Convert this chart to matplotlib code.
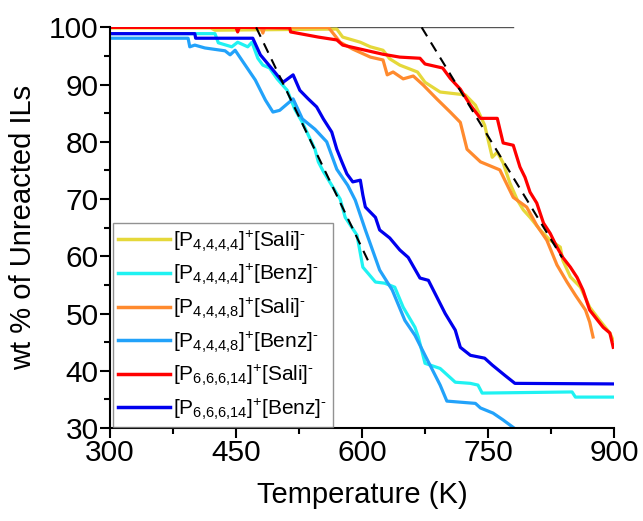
import numpy as np
import matplotlib
matplotlib.use('Agg')
import matplotlib.pyplot as plt
from matplotlib.ticker import MultipleLocator

plt.rcParams['font.family'] = ['Liberation Sans', 'DejaVu Sans']
plt.rcParams['mathtext.fontset'] = 'custom'
plt.rcParams['mathtext.rm'] = 'Liberation Sans'
plt.rcParams['mathtext.it'] = 'Liberation Sans:italic'

##################################
# Data
##################################
labels = [r'[P$_{\mathregular{4{,}4{,}4{,}4}}$]$^{\mathregular{+}}$[Sali]$^{\text{-}}$',
          r'[P$_{\mathregular{4{,}4{,}4{,}4}}$]$^{\mathregular{+}}$[Benz]$^{\text{-}}$',
          r'[P$_{\mathregular{4{,}4{,}4{,}8}}$]$^{\mathregular{+}}$[Sali]$^{\text{-}}$',
          r'[P$_{\mathregular{4{,}4{,}4{,}8}}$]$^{\mathregular{+}}$[Benz]$^{\text{-}}$',
          r'[P$_{\mathregular{6{,}6{,}6{,}14}}$]$^{\mathregular{+}}$[Sali]$^{\text{-}}$',
          r'[P$_{\mathregular{6{,}6{,}6{,}14}}$]$^{\mathregular{+}}$[Benz]$^{\text{-}}$']
colors = ['#E5D83A', '#1FF2F2', '#FF8A2E', '#22A2FA', '#FF0000', '#0000EE']

# P4444 Sali (yellow)
t_p4444_sali = [300, 420, 425, 570, 577, 598, 610, 625, 633, 645, 666, 675, 693, 723, 735,
                746, 755, 761, 768, 776, 785, 792, 800, 812, 824, 836, 839, 848, 860, 871,
                883, 895, 899]
w_p4444_sali = [99.9, 99.9, 99.5, 99.7, 98.3, 97.4, 96.6, 96.0, 94.5, 93.4, 92.2, 90.4, 88.7, 88.2, 86.4,
                82.9, 77.3, 78.2, 76.3, 72.8, 69.8, 68.1, 66.8, 64.6, 62.8, 61.6, 59.3, 56.4, 54.6, 51.1,
                48.8, 46.6, 45.3]

# P4444 Benz (cyan)
t_p4444_benz = [300, 425, 429, 445, 452, 464, 469, 476, 482, 490, 499, 511, 520, 529, 536,
                544, 548, 554, 564, 574, 580, 594, 601, 616, 627, 639, 649, 663, 667, 675,
                693, 711, 729, 738, 743, 850, 854, 900]
w_p4444_benz = [98.9, 98.9, 97.3, 96.6, 97.4, 96.6, 97.4, 94.6, 93.4, 92.9, 91.0, 89.0, 85.7, 83.4, 81.2,
                78.7, 76.5, 74.8, 72.4, 70.0, 66.8, 63.7, 58.1, 55.5, 55.3, 54.6, 51.1, 47.6, 45.9, 41.3,
                40.4, 38.0, 37.8, 37.5, 36.1, 36.3, 35.4, 35.4]

# P4448 Sali (orange)
t_p4448_sali = [300, 480, 482, 484, 560, 574, 589, 610, 625, 630, 637, 649, 661, 673, 689,
                705, 717, 725, 741, 764, 773, 780, 796, 808, 820, 832, 844, 854, 866, 871,
                875]
w_p4448_sali = [100.0, 100.0, 99.0, 100.0, 100.0, 97.4, 96.2, 94.8, 94.3, 91.7, 92.2, 91.0, 91.5, 89.9, 87.5,
                85.2, 83.4, 78.7, 76.5, 75.1, 72.4, 70.3, 68.6, 65.4, 62.8, 58.5, 55.5, 53.2, 50.6, 48.5,
                45.9]

# P4448 Benz (light blue)
t_p4448_benz = [300, 393, 395, 401, 413, 437, 443, 449, 461, 473, 485, 494, 502, 518, 529,
                544, 558, 570, 583, 592, 604, 621, 636, 651, 663, 675, 693, 701, 735, 741,
                756, 768, 780, 790]
w_p4448_benz = [98.1, 98.1, 96.6, 96.9, 96.4, 95.9, 95.2, 96.0, 93.4, 90.8, 87.3, 85.2, 85.5, 87.5, 84.0,
                82.2, 80.0, 75.2, 72.4, 69.8, 64.6, 57.6, 54.1, 48.8, 46.2, 42.7, 37.5, 34.7, 34.3, 33.5,
                32.6, 31.4, 30.1, 29.0]

# P66614 Sali (red)
t_p66614_sali = [300, 450, 452, 454, 514, 515, 548, 570, 577, 598, 625, 645, 669, 675, 696,
                 705, 717, 729, 741, 761, 768, 780, 788, 794, 800, 808, 816, 824, 832, 839,
                 848, 856, 863, 871, 880, 887, 895, 899]
w_p66614_sali = [100.0, 100.0, 99.2, 100.0, 99.9, 99.2, 98.3, 97.8, 96.9, 96.2, 95.3, 94.8, 94.6, 93.6, 92.9,
                 91.1, 89.2, 86.4, 84.1, 84.1, 79.8, 79.4, 75.6, 73.8, 71.2, 69.3, 65.8, 64.0, 61.6, 59.8,
                 58.1, 56.3, 54.1, 50.6, 48.9, 47.6, 46.6, 44.1]

# P66614 Benz (blue)
t_p66614_benz = [300, 401, 402, 470, 479, 496, 506, 518, 526, 536, 546, 554, 564, 570, 576,
                 582, 589, 598, 601, 604, 616, 621, 633, 645, 655, 669, 679, 689, 699, 711,
                 717, 729, 746, 755, 770, 782, 900]
w_p66614_benz = [98.9, 98.9, 98.1, 98.1, 95.2, 92.2, 90.4, 91.7, 89.0, 87.5, 86.1, 84.0, 81.7, 78.7, 76.5,
                 74.4, 73.0, 73.3, 70.7, 68.6, 66.8, 64.6, 63.2, 61.1, 59.8, 56.2, 55.8, 52.9, 50.0, 47.1,
                 44.1, 42.7, 42.2, 41.0, 39.2, 37.8, 37.7]

# dashed tangent lines
fit1_t = [474, 607]
fit1_w = [100.0, 59.3]
fit2_t = [671, 838]
fit2_w = [100.0, 59.8]

series_t = [t_p4444_sali, t_p4444_benz, t_p4448_sali, t_p4448_benz, t_p66614_sali, t_p66614_benz]
series_w = [w_p4444_sali, w_p4444_benz, w_p4448_sali, w_p4448_benz, w_p66614_sali, w_p66614_benz]

##################################
# Plot
##################################
fig = plt.figure(figsize=(6.43, 5.21), dpi=100)
ax = fig.add_axes([0.171, 0.1785, 0.784, 0.769])

ax.plot([300, 780], [100, 100], color='#555555', lw=1.0, zorder=1)

for t, w, c, lab in zip(series_t, series_w, colors, labels):
    ax.plot(t, w, color=c, lw=2.3, label=lab, zorder=2)

ax.plot(fit1_t, fit1_w, color='black', lw=1.5, ls=(0, (5, 3.5)), zorder=3)
ax.plot(fit2_t, fit2_w, color='black', lw=1.5, ls=(0, (5, 3.5)), zorder=3)

ax.set_xlim(300, 900)
ax.set_ylim(30, 100)
ax.xaxis.set_major_locator(MultipleLocator(150))
ax.xaxis.set_minor_locator(MultipleLocator(75))
ax.yaxis.set_major_locator(MultipleLocator(10))
ax.yaxis.set_minor_locator(MultipleLocator(5))

for s in ['top', 'right']:
    ax.spines[s].set_visible(False)
for s in ['left', 'bottom']:
    ax.spines[s].set_linewidth(1.5)

ax.tick_params(which='major', direction='out', length=7, width=1.5, labelsize=21.5, pad=1)
ax.tick_params(which='minor', direction='out', length=4, width=1.5)

ax.set_xlabel('Temperature (K)', fontsize=21, labelpad=10)
ax.set_ylabel('wt % of Unreacted ILs', fontsize=21, labelpad=9)

leg = ax.legend(loc='lower left', bbox_to_anchor=(0.006, 0.002), borderaxespad=0,
                fontsize=15, handlelength=2.5, handletextpad=0.15, labelspacing=0.4,
                borderpad=0.25, fancybox=False, frameon=True)
leg.get_frame().set_edgecolor('#777777')
leg.get_frame().set_linewidth(1.0)
for h in leg.get_lines():
    h.set_linewidth(2.5)

plt.savefig('out.png', dpi=100)
